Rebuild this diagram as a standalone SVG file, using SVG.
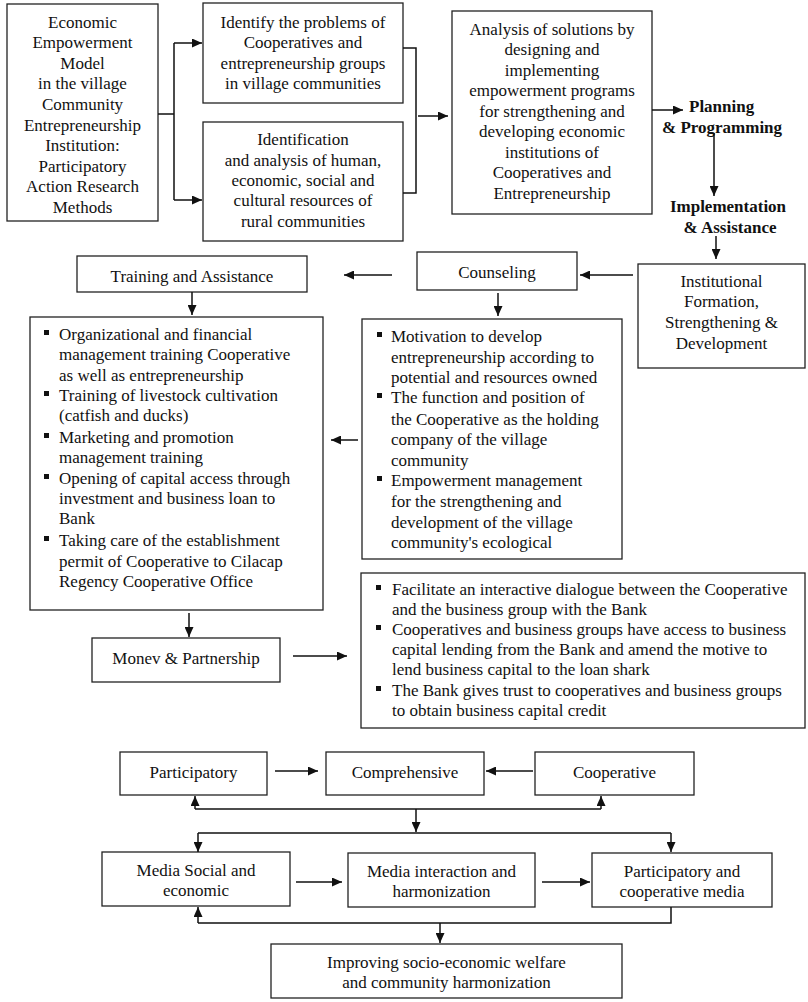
<svg xmlns="http://www.w3.org/2000/svg" width="808" height="1002" viewBox="0 0 808 1002">
<style>
.box{fill:#fff;stroke:#222;stroke-width:1.3}
text{font-family:'Liberation Serif','Times New Roman',serif;font-size:17px;fill:#111}
.c{text-anchor:middle}
.b{font-weight:bold}
.ln{fill:none;stroke:#111;stroke-width:1.5}
.ar{fill:none;stroke:#111;stroke-width:1.5;marker-end:url(#ah)}
.bl{fill:#111}
</style>
<defs>
<marker id="ah" markerUnits="userSpaceOnUse" markerWidth="10" markerHeight="9" refX="10" refY="4.5" orient="auto">
<path d="M0,0 L10,4.5 L0,9 z" fill="#111"/>
</marker>
</defs>
<rect width="808" height="1002" fill="#fff"/>

<g id="model">
<rect class="box" x="7" y="4" width="151" height="217"/>
<text class="c" x="82.5" y="28">Economic</text>
<text class="c" x="82.5" y="48">Empowerment</text>
<text class="c" x="82.5" y="69">Model</text>
<text class="c" x="82.5" y="89">in the village</text>
<text class="c" x="82.5" y="110">Community</text>
<text class="c" x="82.5" y="131">Entrepreneurship</text>
<text class="c" x="82.5" y="151">Institution:</text>
<text class="c" x="82.5" y="172">Participatory</text>
<text class="c" x="82.5" y="192">Action Research</text>
<text class="c" x="82.5" y="213">Methods</text>
</g>

<g id="identify">
<rect class="box" x="203" y="3" width="200" height="100"/>
<text class="c" x="303" y="28">Identify the problems of</text>
<text class="c" x="303" y="48">Cooperatives and</text>
<text class="c" x="303" y="69">entrepreneurship groups</text>
<text class="c" x="303" y="89">in village communities</text>
</g>

<g id="identification">
<rect class="box" x="203" y="122" width="200" height="119"/>
<text class="c" x="303" y="145">Identification</text>
<text class="c" x="303" y="166">and analysis of human,</text>
<text class="c" x="303" y="186">economic, social and</text>
<text class="c" x="303" y="206">cultural resources of</text>
<text class="c" x="303" y="227">rural communities</text>
</g>

<g id="analysis">
<rect class="box" x="452" y="11" width="200" height="203"/>
<text class="c" x="552" y="35">Analysis of solutions by</text>
<text class="c" x="552" y="55">designing and</text>
<text class="c" x="552" y="76">implementing</text>
<text class="c" x="552" y="96">empowerment programs</text>
<text class="c" x="552" y="117">for strengthening and</text>
<text class="c" x="552" y="137">developing economic</text>
<text class="c" x="552" y="158">institutions of</text>
<text class="c" x="552" y="178">Cooperatives and</text>
<text class="c" x="552" y="199">Entrepreneurship</text>
</g>

<g id="planning">
<text class="b" x="689" y="112">Planning</text>
<text class="b" x="662" y="133">&amp; Programming</text>
</g>

<g id="implementation">
<text class="b c" x="728" y="212">Implementation</text>
<text class="b c" x="730" y="233">&amp; Assistance</text>
</g>

<g id="institutional">
<rect class="box" x="638" y="264" width="167" height="104"/>
<text class="c" x="721.5" y="287">Institutional</text>
<text class="c" x="721.5" y="307">Formation,</text>
<text class="c" x="721.5" y="328">Strengthening &amp;</text>
<text class="c" x="721.5" y="349">Development</text>
</g>

<g id="counseling">
<rect class="box" x="417" y="252" width="160" height="38"/>
<text class="c" x="497" y="278">Counseling</text>
</g>

<g id="training">
<rect class="box" x="77" y="256" width="230" height="36"/>
<text class="c" x="192" y="282">Training and Assistance</text>
</g>

<g id="training-items">
<rect class="box" x="30" y="317" width="293" height="293"/>
<rect class="bl" x="44" y="330" width="5" height="5"/>
<rect class="bl" x="44" y="391" width="5" height="5"/>
<rect class="bl" x="44" y="433" width="5" height="5"/>
<rect class="bl" x="44" y="474" width="5" height="5"/>
<rect class="bl" x="44" y="536" width="5" height="5"/>
<text x="59" y="340">Organizational and financial</text>
<text x="59" y="360">management training Cooperative</text>
<text x="59" y="381">as well as entrepreneurship</text>
<text x="59" y="401">Training of livestock cultivation</text>
<text x="59" y="421">(catfish and ducks)</text>
<text x="59" y="443">Marketing and promotion</text>
<text x="59" y="463">management training</text>
<text x="59" y="484">Opening of capital access through</text>
<text x="59" y="504">investment and business loan to</text>
<text x="59" y="524">Bank</text>
<text x="59" y="546">Taking care of the establishment</text>
<text x="59" y="567">permit of Cooperative to Cilacap</text>
<text x="59" y="587">Regency Cooperative Office</text>
</g>

<g id="counseling-items">
<rect class="box" x="362" y="319" width="260" height="240"/>
<rect class="bl" x="377" y="332" width="5" height="5"/>
<rect class="bl" x="377" y="393" width="5" height="5"/>
<rect class="bl" x="377" y="476" width="5" height="5"/>
<text x="391" y="342">Motivation to develop</text>
<text x="391" y="363">entrepreneurship according to</text>
<text x="391" y="383">potential and resources owned</text>
<text x="391" y="403">The function and position of</text>
<text x="391" y="425">the Cooperative as the holding</text>
<text x="391" y="445">company of the village</text>
<text x="391" y="466">community</text>
<text x="391" y="486">Empowerment management</text>
<text x="391" y="507">for the strengthening and</text>
<text x="391" y="528">development of the village</text>
<text x="391" y="548">community's ecological</text>
</g>

<g id="monev">
<rect class="box" x="92" y="638" width="188" height="44"/>
<text class="c" x="186" y="664">Monev &amp; Partnership</text>
</g>

<g id="bank-items">
<rect class="box" x="361" y="573" width="444" height="155"/>
<rect class="bl" x="376" y="585" width="5" height="5"/>
<rect class="bl" x="376" y="625" width="5" height="5"/>
<rect class="bl" x="376" y="686" width="5" height="5"/>
<text x="392" y="595">Facilitate an interactive dialogue between the Cooperative</text>
<text x="392" y="615">and the business group with the Bank</text>
<text x="392" y="635">Cooperatives and business groups have access to business</text>
<text x="392" y="655">capital lending from the Bank and amend the motive to</text>
<text x="392" y="675">lend business capital to the loan shark</text>
<text x="392" y="696">The Bank gives trust to cooperatives and business groups</text>
<text x="392" y="716">to obtain business capital credit</text>
</g>

<g id="participatory">
<rect class="box" x="120" y="752" width="147" height="43"/>
<text class="c" x="193.5" y="778">Participatory</text>
</g>
<g id="comprehensive">
<rect class="box" x="326" y="752" width="158" height="43"/>
<text class="c" x="405" y="778">Comprehensive</text>
</g>
<g id="cooperative">
<rect class="box" x="535" y="752" width="159" height="43"/>
<text class="c" x="614.5" y="778">Cooperative</text>
</g>

<g id="media-social">
<rect class="box" x="102" y="852" width="188" height="54"/>
<text class="c" x="196" y="876">Media Social and</text>
<text class="c" x="196" y="896">economic</text>
</g>
<g id="media-interaction">
<rect class="box" x="348" y="853" width="187" height="54"/>
<text class="c" x="441.5" y="877">Media interaction and</text>
<text class="c" x="441.5" y="897">harmonization</text>
</g>
<g id="media-participatory">
<rect class="box" x="592" y="853" width="180" height="54"/>
<text class="c" x="682" y="877">Participatory and</text>
<text class="c" x="682" y="897">cooperative media</text>
</g>

<g id="improving">
<rect class="box" x="271" y="944" width="351" height="54"/>
<text class="c" x="446.5" y="968">Improving socio-economic welfare</text>
<text class="c" x="446.5" y="988">and community harmonization</text>
</g>

<g id="connectors">
<path class="ln" d="M158,114 H174 M174,43 V200"/>
<path class="ar" d="M174,43 H202"/>
<path class="ar" d="M174,200 H202"/>
<path class="ln" d="M403,48 H416 V193 H403"/>
<path class="ar" d="M418,116 H448"/>
<path class="ar" d="M652,110 H683"/>
<path class="ar" d="M714,133 V196"/>
<path class="ar" d="M716,236 V259"/>
<path class="ar" d="M633,275 H580"/>
<path class="ar" d="M392,275 H344"/>
<path class="ar" d="M192,292 V315"/>
<path class="ar" d="M498,293 V316"/>
<path class="ar" d="M358,440 H331"/>
<path class="ar" d="M189,613 V637"/>
<path class="ar" d="M293,656 H347"/>
<path class="ar" d="M275,771 H318"/>
<path class="ar" d="M533,771 H486"/>
<path class="ln" d="M195,809 H601"/>
<path class="ar" d="M195,809 V796"/>
<path class="ar" d="M601,809 V796"/>
<path class="ar" d="M416,809 V832"/>
<path class="ln" d="M198,833 H671"/>
<path class="ar" d="M198,833 V852"/>
<path class="ar" d="M671,833 V852"/>
<path class="ar" d="M296,882 H342"/>
<path class="ar" d="M542,882 H590"/>
<path class="ln" d="M671,907 V923 H198"/>
<path class="ar" d="M198,923 V907"/>
<path class="ar" d="M440,923 V943"/>
</g>
</svg>
